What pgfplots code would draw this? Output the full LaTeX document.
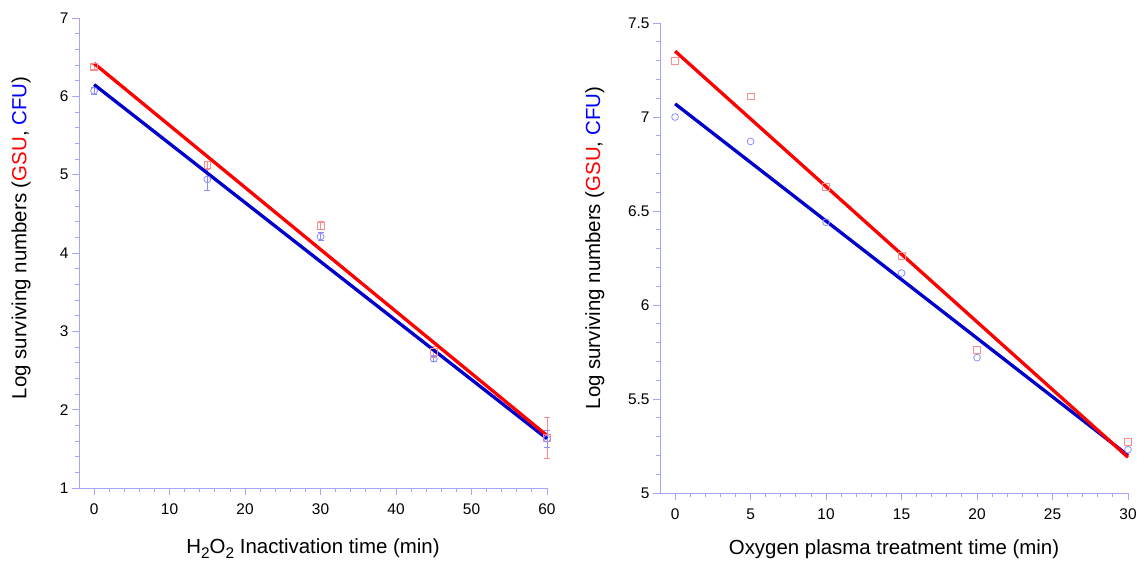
\documentclass[border=0pt]{standalone}
\usepackage{fontspec}
\setmainfont{Liberation Sans}
\usepackage{pgfplots}
\usepackage{pgfplotstable}
\pgfplotsset{compat=1.18}

\definecolor{axiscol}{RGB}{165,165,250}
\definecolor{gsuline}{RGB}{255,0,0}
\definecolor{cfuline}{RGB}{0,0,205}
\definecolor{gsumark}{RGB}{255,140,140}
\definecolor{cfumark}{RGB}{140,140,255}

% lowered digit for chemical formulas in the axis title
\newcommand{\sub}[1]{\raisebox{-0.55ex}{\fontsize{15.5}{16}\selectfont #1}}

% H2O2 series: time, log value, error
\pgfplotstableread{
t   y     e
0   6.38  0.03
15  5.12  0.05
30  4.35  0.05
45  2.74  0.07
60  1.64  0.26
}\hgsu
\pgfplotstableread{
t   y     e
0   6.07  0.05
15  4.94  0.14
30  4.21  0.05
45  2.65  0.03
60  1.63  0.11
}\hcfu
% oxygen plasma series
\pgfplotstableread{
t   y
0   7.30
5   7.11
10  6.63
15  6.26
20  5.76
30  5.27
}\pgsu
\pgfplotstableread{
t   y
0   7.00
5   6.87
10  6.44
15  6.17
20  5.72
30  5.23
}\pcfu

\pgfplotsset{
  survstyle/.style={
    scale only axis, width=468bp, height=470bp,
    axis x line*=bottom, axis y line*=left,
    axis line style={axiscol, line width=1bp, -},
    every tick/.style={axiscol, line width=0.9bp},
    tick align=outside,
    major tick length=7bp, minor tick length=4bp,
    minor x tick num=4, minor y tick num=4,
    tick label style={font=\fontsize{15.5}{18}\selectfont, text=black},
    xticklabel style={yshift=-5bp},
    label style={font=\fontsize{20.5}{24}\selectfont},
    /pgf/number format/assume math mode=true,
    clip=false,
    ylabel={Log surviving numbers ({\color{red}GSU}, {\color{blue}CFU})},
  },
  gsumarks/.style={only marks, mark=square, mark size=3.4bp,
    color=gsumark, mark options={line width=0.8bp, solid}},
  cfumarks/.style={only marks, mark=o, mark size=3.4bp,
    color=cfumark, mark options={line width=0.8bp, solid}},
  ebars/.style={error bars/.cd, y dir=both, y explicit,
    error bar style={line width=0.8bp},
    error mark options={rotate=90, mark size=3bp, line width=0.8bp}},
  fitline/.style={no marks, line width=3.3bp},
}

\begin{document}
\begin{tikzpicture}
\useasboundingbox (0,0) rectangle (1147bp,563bp);

% left panel: H2O2
\begin{axis}[survstyle,
  at={(79bp,75bp)}, anchor=south west,
  xmin=-2, xmax=60, ymin=1, ymax=7,
  xtick={0,10,...,60}, ytick={1,2,...,7},
  xlabel={H\sub{2}O\sub{2} Inactivation time (min)},
  xlabel style={at={(axis description cs:0.5,0)}, anchor=base, yshift=-65bp},
  ylabel style={at={(axis description cs:-0.124,0.532)}, anchor=center},
]
\addplot+[gsumarks, ebars] table[x=t, y=y, y error=e] {\hgsu};
\addplot+[cfumarks, ebars] table[x=t, y=y, y error=e] {\hcfu};
\addplot[fitline, cfuline] coordinates {(0,6.15) (60,1.63)};
\addplot[fitline, gsuline] coordinates {(0,6.42) (60,1.67)};
\end{axis}

% right panel: oxygen plasma
\begin{axis}[survstyle,
  at={(660bp,70bp)}, anchor=south west,
  xmin=-1, xmax=30, ymin=5, ymax=7.5,
  xtick={0,5,...,30}, ytick={5,5.5,...,7.5},
  xlabel={Oxygen plasma treatment time (min)},
  xlabel style={at={(axis description cs:0.5,0)}, anchor=base, yshift=-61bp},
  ylabel style={at={(axis description cs:-0.139,0.521)}, anchor=center},
]
\addplot+[gsumarks] table[x=t, y=y] {\pgsu};
\addplot+[cfumarks] table[x=t, y=y] {\pcfu};
\addplot[fitline, cfuline] coordinates {(0,7.07) (30,5.20)};
\addplot[fitline, gsuline] coordinates {(0,7.35) (30,5.19)};
\end{axis}
\end{tikzpicture}
\end{document}
